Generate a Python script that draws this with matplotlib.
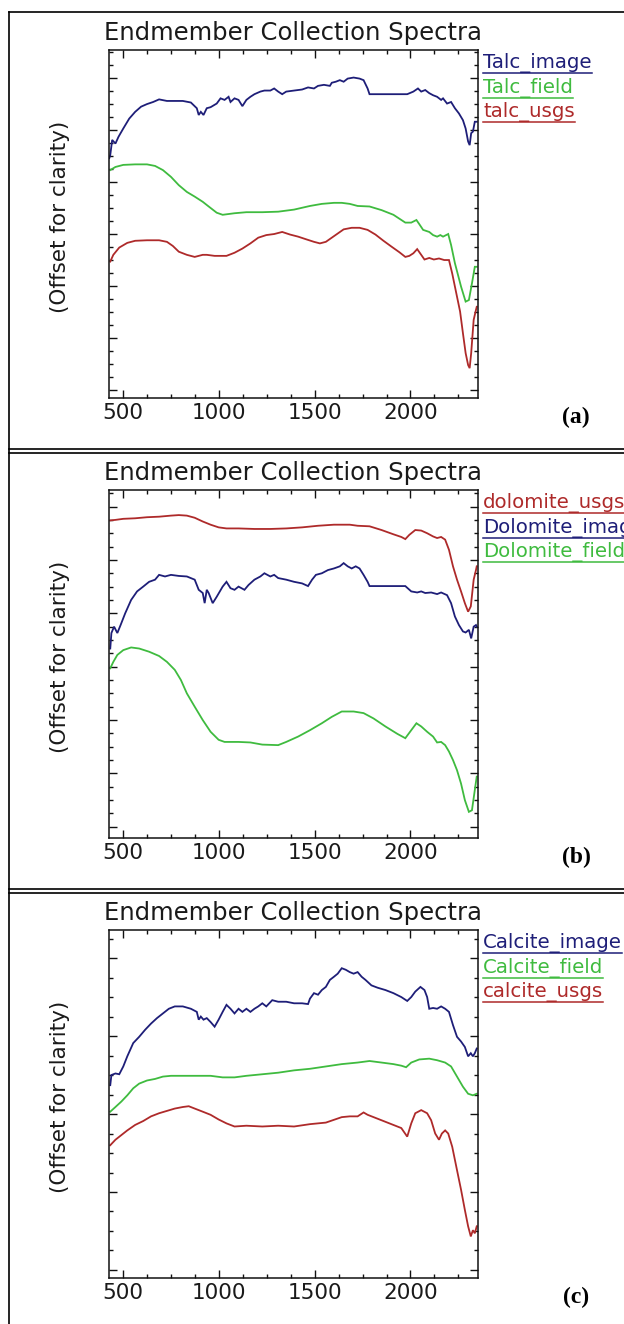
import matplotlib
matplotlib.use("Agg")
import matplotlib.pyplot as plt
from matplotlib.ticker import MultipleLocator, FixedLocator
from matplotlib.lines import Line2D

W, H = 624, 1324
BLUE, GREEN, RED = "#1e1e78", "#3fbb3f", "#ae2a2a"

# ---------------- data (wavelength nm, offset reflectance units) ----------------
talc_image_wl = [427, 432, 442, 459, 475, 500, 531, 562, 593, 624, 656, 687, 728, 811, 853, 884, 894, 905, 919, 936,
                 956, 988, 1008, 1029, 1050, 1060, 1081, 1102, 1122, 1143, 1164, 1185, 1216, 1237, 1268, 1288, 1309,
                 1330, 1351, 1392, 1434, 1465, 1496, 1517, 1548, 1579, 1589, 1610, 1631, 1651, 1672, 1703, 1734, 1755,
                 1776, 1786, 1849, 1932, 1983, 2015, 2039, 2056, 2077, 2098, 2118, 2139, 2160, 2170, 2191, 2212, 2232,
                 2253, 2274, 2288, 2301, 2309, 2317, 2326, 2336, 2346]
talc_image_r = [44.6, 45.2, 48.1, 47.4, 48.7, 50.3, 52.2, 53.5, 54.5, 55.0, 55.4, 55.9, 55.6, 55.6, 55.3, 54.2, 52.9,
                53.5, 52.9, 54.2, 54.4, 55.1, 56.1, 55.8, 56.4, 55.4, 56.1, 55.8, 54.6, 55.8, 56.4, 56.9, 57.4, 57.6,
                57.6, 58.0, 57.4, 56.9, 57.4, 57.6, 57.8, 58.2, 58.0, 58.5, 58.7, 58.5, 59.1, 59.3, 59.6, 59.3, 59.9,
                60.1, 59.9, 59.6, 58.0, 56.9, 56.9, 56.9, 56.9, 57.4, 58.0, 57.4, 57.7, 57.1, 56.7, 56.4, 55.8, 56.1,
                55.1, 55.4, 54.2, 53.2, 51.9, 50.3, 47.8, 47.1, 49.4, 49.7, 51.6, 51.6]

talc_field_wl = [432, 459, 500, 562, 624, 666, 707, 749, 790, 832, 873, 915, 946, 988, 1019, 1081, 1143, 1226, 1309,
                 1392, 1475, 1537, 1600, 1641, 1683, 1724, 1786, 1849, 1911, 1973, 2004, 2031, 2046, 2066, 2098, 2118,
                 2139, 2156, 2170, 2197, 2212, 2232, 2264, 2288, 2305, 2321, 2336, 2346]
talc_field_r = [42.3, 42.9, 43.3, 43.4, 43.4, 43.1, 42.3, 41.0, 39.4, 38.1, 37.2, 36.2, 35.3, 34.1, 33.7, 34.0, 34.2,
                34.2, 34.3, 34.7, 35.4, 35.8, 36.0, 36.0, 35.8, 35.4, 35.3, 34.6, 33.7, 32.2, 32.2, 32.7, 31.9, 30.8,
                30.4, 29.8, 29.5, 29.8, 29.5, 30.0, 27.9, 24.4, 19.9, 17.0, 17.3, 20.5, 23.7, 23.7]

talc_usgs_wl = [432, 448, 479, 521, 562, 624, 687, 728, 759, 790, 832, 873, 915, 936, 977, 1039, 1081, 1122, 1164, 1205,
                1247, 1288, 1330, 1371, 1413, 1454, 1496, 1527, 1558, 1589, 1620, 1651, 1693, 1734, 1776, 1817, 1859,
                1900, 1942, 1973, 1994, 2015, 2035, 2056, 2073, 2098, 2122, 2149, 2176, 2201, 2218, 2232, 2259, 2274,
                2288, 2301, 2309, 2317, 2330, 2342, 2346]
talc_usgs_r = [24.7, 26.0, 27.4, 28.3, 28.7, 28.8, 28.8, 28.5, 27.7, 26.6, 26.0, 25.6, 26.0, 26.0, 25.8, 25.8, 26.4,
               27.2, 28.2, 29.3, 29.8, 30.0, 30.4, 29.9, 29.5, 29.0, 28.5, 28.2, 28.5, 29.3, 30.1, 30.9, 31.2, 31.2,
               30.8, 29.9, 28.7, 27.6, 26.5, 25.6, 25.8, 26.3, 27.1, 26.0, 25.1, 25.4, 25.1, 25.3, 25.0, 25.0, 22.4,
               19.9, 15.1, 10.9, 7.1, 4.8, 4.2, 7.1, 13.5, 15.4, 16.0]

dolomite_usgs_wl = [432, 459, 500, 562, 624, 687, 749, 790, 832, 873, 915, 956, 998, 1039, 1102, 1185, 1268, 1351,
                    1434, 1517, 1600, 1683, 1724, 1786, 1849, 1911, 1952, 1973, 1994, 2025, 2056, 2087, 2118, 2139,
                    2160, 2181, 2201, 2222, 2243, 2264, 2284, 2301, 2315, 2330, 2342, 2346]
dolomite_usgs_r = [57.4, 57.5, 57.7, 57.8, 58.0, 58.1, 58.3, 58.4, 58.3, 57.9, 57.2, 56.6, 56.1, 55.9, 55.9, 55.8,
                   55.8, 55.9, 56.1, 56.4, 56.6, 56.6, 56.4, 56.3, 55.6, 54.8, 54.3, 53.9, 54.7, 55.6, 55.5, 55.0,
                   54.4, 54.1, 54.3, 53.8, 51.9, 48.8, 46.3, 44.1, 41.9, 40.3, 41.3, 46.3, 48.1, 48.8]

dolomite_image_wl = [432, 438, 452, 469, 486, 510, 541, 572, 604, 635, 666, 687, 718, 749, 790, 832, 873, 894, 915,
                     925, 936, 946, 967, 988, 1019, 1039, 1060, 1081, 1102, 1133, 1154, 1185, 1216, 1237, 1268, 1288,
                     1309, 1351, 1392, 1434, 1465, 1486, 1506, 1537, 1569, 1600, 1631, 1651, 1672, 1693, 1714, 1734,
                     1755, 1776, 1786, 1849, 1932, 1973, 2004, 2035, 2056, 2077, 2108, 2139, 2160, 2191, 2212, 2232,
                     2253, 2274, 2288, 2305, 2317, 2330, 2342, 2346]
dolomite_image_r = [33.4, 36.3, 37.5, 36.3, 37.8, 40.0, 42.5, 44.1, 45.0, 45.9, 46.3, 47.2, 46.9, 47.2, 47.0, 46.9,
                    46.3, 44.4, 43.8, 41.9, 44.4, 43.8, 41.9, 43.1, 45.0, 45.9, 44.7, 44.4, 45.0, 44.4, 45.3, 46.3,
                    46.9, 47.5, 46.9, 47.2, 46.6, 46.3, 45.9, 45.6, 45.1, 46.3, 47.2, 47.5, 48.1, 48.4, 48.8, 49.4,
                    48.8, 48.4, 48.8, 48.4, 47.2, 45.9, 45.1, 45.1, 45.1, 45.1, 44.1, 43.9, 44.1, 43.8, 43.9, 43.6,
                    43.9, 43.4, 41.9, 39.4, 37.8, 36.6, 36.4, 36.9, 35.3, 37.5, 37.8, 37.5]

dolomite_field_wl = [432, 448, 469, 500, 541, 583, 635, 687, 728, 769, 801, 832, 873, 915, 956, 998, 1029, 1102, 1164,
                     1226, 1309, 1351, 1413, 1475, 1537, 1589, 1641, 1703, 1755, 1807, 1869, 1932, 1973, 2004, 2031,
                     2056, 2087, 2118, 2139, 2160, 2181, 2201, 2222, 2243, 2264, 2284, 2305, 2321, 2336, 2346]
dolomite_field_r = [29.7, 30.9, 32.2, 33.1, 33.6, 33.4, 32.8, 32.0, 30.9, 29.4, 27.5, 25.0, 22.5, 20.0, 17.8, 16.3,
                    15.9, 15.9, 15.8, 15.4, 15.3, 15.9, 16.9, 18.1, 19.4, 20.6, 21.6, 21.6, 21.3, 20.3, 18.8, 17.4,
                    16.6, 18.1, 19.4, 18.8, 17.8, 16.9, 15.8, 15.9, 15.3, 14.1, 12.5, 10.6, 8.1, 5.0, 2.8, 3.1, 6.9,
                    9.4]

calcite_image_wl = [432, 438, 459, 479, 500, 521, 552, 583, 614, 645, 676, 707, 738, 769, 811, 853, 884, 894, 905, 919,
                    936, 956, 977, 998, 1019, 1039, 1060, 1081, 1102, 1122, 1143, 1164, 1185, 1205, 1226, 1247, 1278,
                    1309, 1351, 1392, 1434, 1465, 1475, 1496, 1517, 1537, 1558, 1579, 1600, 1620, 1641, 1662, 1683,
                    1703, 1724, 1745, 1765, 1796, 1828, 1869, 1911, 1952, 1983, 2004, 2025, 2052, 2073, 2087, 2098,
                    2118, 2139, 2160, 2181, 2201, 2222, 2243, 2264, 2284, 2301, 2315, 2326, 2336, 2346]
calcite_image_r = [23.7, 25.0, 25.2, 25.1, 26.1, 27.4, 29.1, 29.9, 30.8, 31.6, 32.3, 32.9, 33.5, 33.8, 33.8, 33.5,
                   33.1, 32.1, 32.5, 32.1, 32.3, 31.8, 31.2, 32.1, 33.1, 34.0, 33.5, 32.9, 33.5, 33.1, 33.5, 33.1,
                   33.5, 33.8, 34.2, 33.8, 34.6, 34.4, 34.4, 34.2, 34.2, 34.1, 34.8, 35.5, 35.3, 35.9, 36.3, 37.2,
                   37.6, 38.0, 38.7, 38.5, 38.2, 38.0, 38.2, 37.6, 37.2, 36.5, 36.2, 35.9, 35.5, 35.0, 34.5, 35.0,
                   35.7, 36.3, 35.9, 35.0, 33.5, 33.6, 33.5, 33.8, 33.5, 33.1, 31.4, 29.9, 29.3, 28.6, 27.4, 27.8,
                   27.4, 27.8, 28.4]

calcite_field_wl = [432, 459, 490, 521, 552, 583, 624, 666, 707, 749, 811, 894, 956, 1019, 1081, 1143, 1226, 1309,
                    1392, 1475, 1558, 1641, 1724, 1786, 1849, 1911, 1952, 1977, 2004, 2046, 2098, 2139, 2181, 2212,
                    2243, 2274, 2301, 2326, 2346]
calcite_field_r = [20.3, 20.9, 21.6, 22.4, 23.3, 23.9, 24.3, 24.5, 24.8, 24.9, 24.9, 24.9, 24.9, 24.7, 24.7, 24.9,
                   25.1, 25.3, 25.6, 25.8, 26.1, 26.4, 26.6, 26.8, 26.6, 26.4, 26.2, 26.0, 26.6, 27.0, 27.1, 26.9,
                   26.6, 26.1, 24.8, 23.5, 22.6, 22.4, 22.6]

calcite_usgs_wl = [432, 459, 490, 521, 562, 604, 645, 687, 728, 769, 811, 842, 873, 915, 956, 998, 1039, 1081, 1143,
                   1226, 1309, 1392, 1475, 1558, 1641, 1683, 1724, 1755, 1776, 1828, 1890, 1952, 1983, 2004, 2025,
                   2056, 2087, 2108, 2129, 2149, 2164, 2181, 2197, 2218, 2243, 2264, 2284, 2301, 2315, 2326, 2336,
                   2346]
calcite_usgs_r = [16.0, 16.7, 17.3, 17.9, 18.6, 19.1, 19.7, 20.1, 20.4, 20.7, 20.9, 21.0, 20.7, 20.3, 19.9, 19.3,
                  18.8, 18.4, 18.5, 18.4, 18.5, 18.4, 18.7, 18.9, 19.6, 19.7, 19.7, 20.2, 19.9, 19.4, 18.8, 18.2,
                  17.1, 18.8, 20.1, 20.5, 20.1, 19.2, 17.5, 16.7, 17.5, 17.9, 17.5, 15.8, 12.8, 10.3, 7.7, 5.6, 4.3,
                  5.1, 4.7, 5.6]

x_ticks = [500, 1000, 1500, 2000]
x_tick_labels = ["500", "1000", "1500", "2000"]
title_text = "Endmember Collection Spectra"
ylabel_text = "(Offset for clarity)"
panel_tags = ["(a)", "(b)", "(c)"]

panels = [
    dict(series=[("Talc_image", talc_image_wl, talc_image_r, BLUE),
                 ("Talc_field", talc_field_wl, talc_field_r, GREEN),
                 ("talc_usgs", talc_usgs_wl, talc_usgs_r, RED)],
         ylim=(-1.54, 65.4)),
    dict(series=[("dolomite_usgs", dolomite_usgs_wl, dolomite_usgs_r, RED),
                 ("Dolomite_image", dolomite_image_wl, dolomite_image_r, BLUE),
                 ("Dolomite_field", dolomite_field_wl, dolomite_field_r, GREEN)],
         ylim=(-2.1, 63.1)),
    dict(series=[("Calcite_image", calcite_image_wl, calcite_image_r, BLUE),
                 ("Calcite_field", calcite_field_wl, calcite_field_r, GREEN),
                 ("calcite_usgs", calcite_usgs_wl, calcite_usgs_r, RED)],
         ylim=(-1.03, 43.6)),
]

# ---------------- figure ----------------
plt.rcParams["font.family"] = ["DejaVu Sans"]
fig = plt.figure(figsize=(W / 100, H / 100), dpi=100)
fig.patch.set_facecolor("white")


def fx(x):
    return x / W


def fy(y):
    return 1 - y / H


PITCH = 440
legend_texts = []
for i, p in enumerate(panels):
    off = PITCH * i
    ax = fig.add_axes([fx(109.3), fy(398 + off), 368.2 / W, 348 / H])
    for name, wl, r, c in p["series"]:
        ax.plot(wl, r, color=c, lw=1.3, solid_joinstyle="miter")
    ax.set_xlim(427, 2350)
    ax.set_ylim(*p["ylim"])
    ax.xaxis.set_major_locator(FixedLocator(x_ticks))
    ax.set_xticklabels(x_tick_labels)
    ax.xaxis.set_minor_locator(MultipleLocator(125))
    ax.yaxis.set_major_locator(MultipleLocator(10))
    ax.yaxis.set_minor_locator(MultipleLocator(2.5))
    ax.tick_params(which="both", direction="in", top=True, right=True, labelleft=False,
                   color="#111111", width=1.0)
    ax.tick_params(which="major", length=5.5)
    ax.tick_params(which="minor", length=3.0)
    ax.tick_params(axis="x", which="major", labelsize=15.5, pad=3.6, labelcolor="#1a1a1a")
    for s in ax.spines.values():
        s.set_linewidth(1.1)
        s.set_color("#111111")
    ax.set_title(title_text, fontsize=17.5, pad=7.0, color="#1a1a1a")
    ax.text(-0.134, 0.520, ylabel_text, rotation=90, transform=ax.transAxes,
            ha="center", va="center", fontsize=15.5, color="#1a1a1a")
    fig.text(fx(576), fy(417 + off), panel_tags[i], family="Liberation Serif", weight="bold",
             fontsize=17, ha="center", va="center", color="black")
    for k, (name, wl, r, c) in enumerate(p["series"]):
        base = [68.3, 92.8, 116.8][k] + off
        t = fig.text(fx(483), fy(base), name, color=c, fontsize=14.2, ha="left", va="baseline")
        legend_texts.append((t, base, c))

# underlines for the legend labels
fig.canvas.draw()
renderer = fig.canvas.get_renderer()
for t, base, c in legend_texts:
    bb = t.get_window_extent(renderer)
    fig.add_artist(Line2D([fx(bb.x0), fx(bb.x1)], [fy(base + 5)] * 2, transform=fig.transFigure,
                          color=c, lw=1.1))

# panel frame lines
frame_kw = dict(transform=fig.transFigure, color="black", lw=1.2)
fig.add_artist(Line2D([fx(9), fx(9)], [fy(11.7), fy(H)], **frame_kw))
fig.add_artist(Line2D([fx(9), fx(W)], [fy(11.7), fy(11.7)], **frame_kw))
for j in (1, 2):
    for yy in (449.3, 452.7):
        fig.add_artist(Line2D([fx(9), fx(W)], [fy(yy + PITCH * (j - 1)), fy(yy + PITCH * (j - 1))],
                              **frame_kw))

fig.savefig("out.png", dpi=100, facecolor="white")
